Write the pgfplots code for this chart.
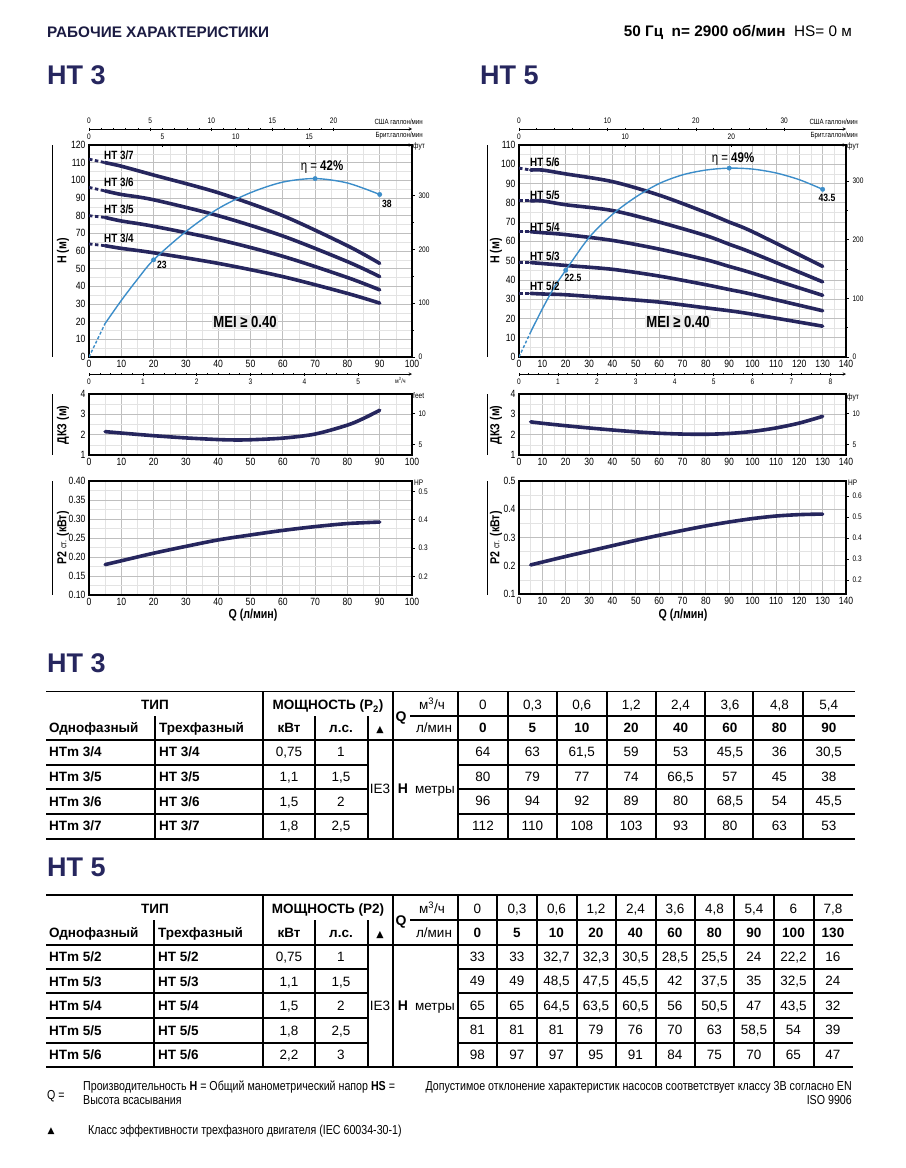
\documentclass[border=0pt]{standalone}
\usepackage{pgfplots}
\usepackage{pgfplotstable}
\pgfplotsset{compat=1.18}
\usepackage{fontspec}
\setmainfont{Liberation Sans}
\newfontfamily\narrow{Liberation Sans}[FakeStretch=0.82]
\newfontfamily\dejavu{DejaVu Sans}
\newcommand{\fs}[1]{\fontsize{#1bp}{#1bp}\selectfont}
\definecolor{navy}{HTML}{26265E}
\definecolor{etab}{HTML}{3C8DC9}

\pgfplotstableread{
Q a b c d
0 64 80 96 112
5 63 79 94 110
10 61.5 77 92 108
20 59 74 89 103
40 53 66.5 80 93
60 45.5 57 68.5 80
80 36 45 54 63
90 30.5 38 45.5 53
}\htthree

\pgfplotstableread{
Q a b c d e
0 33 49 65 81 98
5 33 49 65 81 97
10 32.7 48.5 64.5 81 97
20 32.3 47.5 63.5 79 95
40 30.5 45.5 60.5 76 91
60 28.5 42 56 70 84
80 25.5 37.5 50.5 63 75
90 24 35 47 58.5 70
100 22.2 32.5 43.5 54 65
130 16 24 32 39 47
}\htfive

\pgfplotsset{
  chart/.style={scale only axis, grid=both, minor x tick num=1, minor y tick num=1,
    major grid style={draw=gray!50, line width=0.8bp},
    minor grid style={draw=gray!22, line width=0.5bp},
    major tick length=0pt, minor tick length=0pt,
    axis line style={black, line width=1.2bp},
    tick label style={font=\narrow\fs{10.5}},
    /pgf/number format/assume math mode=true},
  hc/.style={navy, line width=3.6bp, smooth, line cap=round, restrict x to domain=5:200},
  hcd/.style={navy, line width=2.8bp, dash pattern=on 3.5bp off 2.5bp, restrict x to domain=0:5},
  cc/.style={navy, line width=3.6bp, smooth, line cap=round},
  eta/.style={etab, line width=1.4bp, smooth},
  etad/.style={etab, line width=1.4bp, dash pattern=on 3bp off 2bp},
  dots/.style={etab, only marks, mark=*, mark size=2.2bp},
  secy/.style={scale only axis, xmin=0, xmax=1, axis x line=none, axis y line=right,
    axis line style={-, black, line width=0.5bp}, tick align=outside,
    major tick length=3bp, minor tick length=1.5bp, ytick style={black, line width=0.5bp},
    yticklabel style={font=\narrow\fs{8}}, /pgf/number format/assume math mode=true},
  secx/.style={scale only axis, height=1bp, ymin=0, ymax=1, axis y line=none,
    axis line style={-, black, line width=0.5bp}, tick align=outside,
    major tick length=3bp, minor tick length=2bp, xtick style={black, line width=0.5bp},
    xticklabel style={font=\narrow\fs{8}}, /pgf/number format/assume math mode=true},
  secxb/.style={secx, tick align=inside},
}

\begin{document}
\begin{tikzpicture}
\path[use as bounding box] (0,0) rectangle (906bp,-1168bp);

% ================= HT 3 =================
\begin{axis}[chart, at={(89bp,-357bp)}, anchor=south west, width=323bp, height=212bp,
  xmin=0, xmax=100, ymin=0, ymax=120, xtick={0,10,...,100}, ytick={0,10,...,120}]
\addplot[hcd] table[x=Q,y=a]{\htthree};
\addplot[hcd] table[x=Q,y=b]{\htthree};
\addplot[hcd] table[x=Q,y=c]{\htthree};
\addplot[hcd] table[x=Q,y=d]{\htthree};
\addplot[hc] table[x=Q,y=a]{\htthree};
\addplot[hc] table[x=Q,y=b]{\htthree};
\addplot[hc] table[x=Q,y=c]{\htthree};
\addplot[hc] table[x=Q,y=d]{\htthree};
\addplot[etad] coordinates {(0,0)(5,19)};
\addplot[eta] coordinates {(5,19)(10,32)(15,44)(20,55)(30,71)(40,84)(50,93)(60,99)(70,101)(80,98.5)(90,92)};
\addplot[dots] coordinates {(20,55)(70,101)(90,92)};
\end{axis}
\begin{axis}[secy, at={(89bp,-357bp)}, anchor=south west, width=323bp, height=212bp,
  ymin=0, ymax=393.7, ytick={0,100,200,300}, minor y tick num=1]
\end{axis}
\begin{axis}[secx, axis x line=top, at={(89bp,-129bp)}, anchor=north west, width=323bp,
  xmin=0, xmax=26.42, xtick={0,5,...,20}, minor x tick num=4]
\end{axis}
\begin{axis}[secx, axis x line=top, at={(89bp,-145bp)}, anchor=north west, width=323bp,
  xmin=0, xmax=22.0, xtick={0,5,10,15}, minor x tick num=4]
\end{axis}
\begin{axis}[secxb, axis x line=bottom, at={(89bp,-374bp)}, anchor=south west, width=323bp,
  xmin=0, xmax=6, xtick={0,1,...,5}, minor x tick num=4]
\end{axis}

\begin{axis}[chart, at={(89bp,-455bp)}, anchor=south west, width=323bp, height=61bp,
  xmin=0, xmax=100, ymin=1, ymax=4, xtick={0,10,...,100}, ytick={1,2,3,4}]
\addplot[cc] coordinates {(5,2.15)(10,2.08)(20,1.95)(30,1.84)(40,1.76)(45,1.74)(50,1.75)(60,1.83)(70,2.03)(80,2.47)(85,2.8)(90,3.2)};
\end{axis}
\begin{axis}[secy, at={(89bp,-455bp)}, anchor=south west, width=323bp, height=61bp,
  ymin=3.2808, ymax=13.1234, ytick={5,10}]
\end{axis}

\begin{axis}[chart, at={(89bp,-595bp)}, anchor=south west, width=323bp, height=114bp,
  xmin=0, xmax=100, ymin=0.1, ymax=0.4, xtick={0,10,...,100},
  ytick={0.1,0.15,0.2,0.25,0.3,0.35,0.4},
  yticklabel style={/pgf/number format/.cd, fixed, zerofill, precision=2}]
\addplot[cc] coordinates {(5,0.18)(10,0.19)(20,0.21)(30,0.228)(40,0.245)(50,0.258)(60,0.27)(70,0.28)(80,0.288)(90,0.292)};
\end{axis}
\begin{axis}[secy, at={(89bp,-595bp)}, anchor=south west, width=323bp, height=114bp,
  ymin=0.1341, ymax=0.5364, ytick={0.2,0.3,0.4,0.5}]
\end{axis}

% ================= HT 5 =================
\begin{axis}[chart, at={(519bp,-357bp)}, anchor=south west, width=327bp, height=212bp,
  xmin=0, xmax=140, ymin=0, ymax=110, xtick={0,10,...,140}, ytick={0,10,...,110}]
\addplot[hcd] table[x=Q,y=a]{\htfive};
\addplot[hcd] table[x=Q,y=b]{\htfive};
\addplot[hcd] table[x=Q,y=c]{\htfive};
\addplot[hcd] table[x=Q,y=d]{\htfive};
\addplot[hcd] table[x=Q,y=e]{\htfive};
\addplot[hc] table[x=Q,y=a]{\htfive};
\addplot[hc] table[x=Q,y=b]{\htfive};
\addplot[hc] table[x=Q,y=c]{\htfive};
\addplot[hc] table[x=Q,y=d]{\htfive};
\addplot[hc] table[x=Q,y=e]{\htfive};
\addplot[etad] coordinates {(0,0)(5,13)};
\addplot[eta] coordinates {(5,13)(10,25)(15,36)(20,45)(30,62)(40,74)(50,83)(60,90)(70,94.5)(80,97)(90,98)(100,97.5)(110,95.5)(120,92)(130,87)};
\addplot[dots] coordinates {(20,45)(90,98)(130,87)};
\end{axis}
\begin{axis}[secy, at={(519bp,-357bp)}, anchor=south west, width=327bp, height=212bp,
  ymin=0, ymax=360.89, ytick={0,100,200,300}, minor y tick num=1]
\end{axis}
\begin{axis}[secx, axis x line=top, at={(519bp,-129bp)}, anchor=north west, width=327bp,
  xmin=0, xmax=36.99, xtick={0,10,20,30}, minor x tick num=4]
\end{axis}
\begin{axis}[secx, axis x line=top, at={(519bp,-145bp)}, anchor=north west, width=327bp,
  xmin=0, xmax=30.8, xtick={0,10,20}, minor x tick num=4]
\end{axis}
\begin{axis}[secxb, axis x line=bottom, at={(519bp,-374bp)}, anchor=south west, width=327bp,
  xmin=0, xmax=8.4, xtick={0,1,...,8}, minor x tick num=3]
\end{axis}

\begin{axis}[chart, at={(519bp,-455bp)}, anchor=south west, width=327bp, height=61bp,
  xmin=0, xmax=140, ymin=1, ymax=4, xtick={0,10,...,140}, ytick={1,2,3,4}]
\addplot[cc] coordinates {(5,2.63)(10,2.56)(20,2.44)(30,2.33)(40,2.23)(50,2.14)(60,2.07)(70,2.03)(80,2.02)(90,2.06)(100,2.16)(110,2.33)(120,2.57)(130,2.9)};
\end{axis}
\begin{axis}[secy, at={(519bp,-455bp)}, anchor=south west, width=327bp, height=61bp,
  ymin=3.2808, ymax=13.1234, ytick={5,10}]
\end{axis}

\begin{axis}[chart, at={(519bp,-594bp)}, anchor=south west, width=327bp, height=113bp,
  xmin=0, xmax=140, ymin=0.1, ymax=0.5, xtick={0,10,...,140},
  ytick={0.1,0.2,0.3,0.4,0.5},
  yticklabel style={/pgf/number format/.cd, fixed, zerofill, precision=1}]
\addplot[cc] coordinates {(5,0.203)(10,0.213)(20,0.233)(30,0.252)(40,0.271)(50,0.29)(60,0.308)(70,0.325)(80,0.341)(90,0.355)(100,0.367)(110,0.376)(120,0.381)(130,0.383)};
\end{axis}
\begin{axis}[secy, at={(519bp,-594bp)}, anchor=south west, width=327bp, height=113bp,
  ymin=0.1341, ymax=0.6705, ytick={0.2,0.3,0.4,0.5,0.6}]
\end{axis}

% ================= texts, tables =================
\begin{scope}[x=1bp,y=-1bp]
% header
\node[anchor=west, inner sep=0, font=\bfseries\fs{15.3}, text=navy!70!black] at (47,32) {РАБОЧИЕ ХАРАКТЕРИСТИКИ};
\node[anchor=east, inner sep=0, font=\fs{15.3}] at (852,32) {\textbf{50 Гц\ \ n= 2900 об/мин}\ \ HS= 0 м};
\node[anchor=west, inner sep=0, font=\bfseries\fs{27}, text=navy] at (47,75) {HT 3};
\node[anchor=west, inner sep=0, font=\bfseries\fs{27}, text=navy] at (480,75) {HT 5};

% decorative lines
\foreach \xx in {52,487} {
  \draw[line width=0.8bp] (\xx,145)--(\xx,357);
  \draw[line width=0.8bp] (\xx,394)--(\xx,455);
  \draw[line width=0.8bp] (\xx,481)--(\xx,595);
}
% axis labels
\foreach \xx in {63,496} {
  \node[rotate=90, font=\narrow\bfseries\fs{13}] at (\xx,251) {H (м)};
  \node[rotate=90, font=\narrow\bfseries\fs{13}] at (\xx,425) {ДКЗ (м)};
  \node[rotate=90, font=\narrow\bfseries\fs{13}] at (\xx,538) {P2 {\mdseries\fs{9}ст.} (кВт)};
}
\node[font=\narrow\bfseries\fs{13}] at (253,615) {Q (л/мин)};
\node[font=\narrow\bfseries\fs{13}] at (683,615) {Q (л/мин)};

% scale labels
\node[anchor=east, inner sep=0, font=\narrow\fs{7.5}] at (423,122) {США галлон/мин};
\node[anchor=east, inner sep=0, font=\narrow\fs{7.5}] at (423,136) {Брит.галлон/мин};
\node[anchor=east, inner sep=0, font=\narrow\fs{7.5}] at (858,122) {США галлон/мин};
\node[anchor=east, inner sep=0, font=\narrow\fs{7.5}] at (858,136) {Брит.галлон/мин};
\node[anchor=west, inner sep=0, font=\narrow\fs{8}] at (413,146) {фут};
\node[anchor=west, inner sep=0, font=\narrow\fs{8}] at (847,146) {фут};
\node[anchor=west, inner sep=0, font=\narrow\fs{6.5}] at (395,380) {м\textsuperscript{3}/ч};
\node[anchor=west, inner sep=0, font=\narrow\fs{8}] at (413,396) {feet};
\node[anchor=west, inner sep=0, font=\narrow\fs{8}] at (847,397) {фут};
\node[anchor=west, inner sep=0, font=\narrow\fs{8}] at (414,483) {HP};
\node[anchor=west, inner sep=0, font=\narrow\fs{8}] at (848,483) {HP};

% curve labels
\node[anchor=west, inner sep=0, font=\narrow\bfseries\fs{12}] at (104,155) {HT 3/7};
\node[anchor=west, inner sep=0, font=\narrow\bfseries\fs{12}] at (104,182) {HT 3/6};
\node[anchor=west, inner sep=0, font=\narrow\bfseries\fs{12}] at (104,209) {HT 3/5};
\node[anchor=west, inner sep=0, font=\narrow\bfseries\fs{12}] at (104,238) {HT 3/4};
\node[anchor=west, inner sep=0, font=\narrow\bfseries\fs{12}] at (530,162) {HT 5/6};
\node[anchor=west, inner sep=0, font=\narrow\bfseries\fs{12}] at (530,195) {HT 5/5};
\node[anchor=west, inner sep=0, font=\narrow\bfseries\fs{12}] at (530,227) {HT 5/4};
\node[anchor=west, inner sep=0, font=\narrow\bfseries\fs{12}] at (530,256) {HT 5/3};
\node[anchor=west, inner sep=0, font=\narrow\bfseries\fs{12}] at (530,286) {HT 5/2};

% eta labels
\node[inner sep=0, font=\narrow\fs{14}] at (322,167) {η = \textbf{42\%}};
\node[inner sep=0, font=\narrow\bfseries\fs{10.5}] at (162,265) {23};
\node[inner sep=0, font=\narrow\bfseries\fs{10.5}] at (387,204) {38};
\node[inner sep=0, font=\narrow\fs{14}] at (733,159) {η = \textbf{49\%}};
\node[inner sep=0, font=\narrow\bfseries\fs{10.5}] at (573,278) {22.5};
\node[inner sep=0, font=\narrow\bfseries\fs{10.5}] at (827,198) {43.5};

% MEI
\node[fill=gray!15, inner sep=1.5bp, font=\narrow\bfseries\fs{16}] at (245,322) {MEI ≥ 0.40};
\node[fill=gray!15, inner sep=1.5bp, font=\narrow\bfseries\fs{16}] at (678,322) {MEI ≥ 0.40};

% ---------- table titles ----------
\node[anchor=west, inner sep=0, font=\bfseries\fs{27}, text=navy] at (47,663) {HT 3};
\node[anchor=west, inner sep=0, font=\bfseries\fs{27}, text=navy] at (47,867) {HT 5};

% ---------- HT 3 table ----------
\begin{scope}[line width=1.1bp]
\draw (46,691.5)--(855,691.5);
\draw (410,716)--(855,716);
\draw (46,740)--(855,740);
\foreach \yy in {765,789,814} {\draw (46,\yy)--(368,\yy); \draw (458,\yy)--(855,\yy);}
\draw (46,839)--(855,839);
\foreach \xx in {155,315,368} \draw (\xx,716)--(\xx,839);
\foreach \xx in {263,393,458,508,557,607,656,705,753,803} \draw (\xx,691.5)--(\xx,839);
\end{scope}
\begin{scope}[every node/.style={font=\fs{13.5}, inner sep=0, text height=9.7bp, text depth=0bp}]
\node[font=\bfseries\fs{13.5}] at (155,705) {ТИП};
\node[font=\bfseries\fs{13.5}] at (328,705) {МОЩНОСТЬ (P\textsubscript{2})};
\node[anchor=west, font=\bfseries\fs{13.5}] at (49,728) {Однофазный};
\node[anchor=west, font=\bfseries\fs{13.5}] at (159,728) {Трехфазный};
\node[font=\bfseries\fs{13.5}] at (289,728) {кВт};
\node[font=\bfseries\fs{13.5}] at (341,728) {л.с.};
\node[font=\dejavu\fs{9.5}] at (380,728) {▲};
\node[font=\bfseries\fs{14}] at (401,717) {Q};
\node at (432,705) {м\textsuperscript{3}/ч};
\node at (434,728) {л/мин};
\foreach \m/\t/\kw/\hp [count=\i from 0] in {{HTm 3/4}/{HT 3/4}/{0,75}/1, {HTm 3/5}/{HT 3/5}/{1,1}/{1,5}, {HTm 3/6}/{HT 3/6}/{1,5}/2, {HTm 3/7}/{HT 3/7}/{1,8}/{2,5}} {
  \node[anchor=west, font=\bfseries\fs{13.5}] at (49,752+24.6*\i) {\m};
  \node[anchor=west, font=\bfseries\fs{13.5}] at (159,752+24.6*\i) {\t};
  \node at (289,752+24.6*\i) {\kw};
  \node at (341,752+24.6*\i) {\hp};
}
\node at (380,789) {IE3};
\node[font=\bfseries\fs{14}] at (403,789) {H};
\node at (435,789) {метры};
\foreach \v [count=\i from 0] in {0,{0,3},{0,6},{1,2},{2,4},{3,6},{4,8},{5,4}} \node at (483+49.4*\i,705) {\v};
\foreach \v [count=\i from 0] in {0,5,10,20,40,60,80,90} \node[font=\bfseries\fs{13.5}] at (483+49.4*\i,728) {\v};
\foreach \v [count=\i from 0] in {64,63,{61,5},59,53,{45,5},36,{30,5}} \node at (483+49.4*\i,752) {\v};
\foreach \v [count=\i from 0] in {80,79,77,74,{66,5},57,45,38} \node at (483+49.4*\i,777) {\v};
\foreach \v [count=\i from 0] in {96,94,92,89,80,{68,5},54,{45,5}} \node at (483+49.4*\i,801) {\v};
\foreach \v [count=\i from 0] in {112,110,108,103,93,80,63,53} \node at (483+49.4*\i,826) {\v};
\end{scope}

% ---------- HT 5 table ----------
\begin{scope}[line width=1.1bp]
\draw (46,895)--(853,895);
\draw (410,920)--(853,920);
\draw (46,945)--(853,945);
\foreach \yy in {969,993,1018,1043} {\draw (46,\yy)--(368,\yy); \draw (458,\yy)--(853,\yy);}
\draw (46,1067)--(853,1067);
\foreach \xx in {154,315,368} \draw (\xx,920)--(\xx,1067);
\foreach \xx in {263,393,458,497,537,577,616,656,695,734,774,814} \draw (\xx,895)--(\xx,1067);
\end{scope}
\begin{scope}[every node/.style={font=\fs{13.5}, inner sep=0, text height=9.7bp, text depth=0bp}]
\node[font=\bfseries\fs{13.5}] at (155,909) {ТИП};
\node[font=\bfseries\fs{13.5}] at (328,909) {МОЩНОСТЬ (P2)};
\node[anchor=west, font=\bfseries\fs{13.5}] at (49,933) {Однофазный};
\node[anchor=west, font=\bfseries\fs{13.5}] at (158,933) {Трехфазный};
\node[font=\bfseries\fs{13.5}] at (289,933) {кВт};
\node[font=\bfseries\fs{13.5}] at (341,933) {л.с.};
\node[font=\dejavu\fs{9.5}] at (380,933) {▲};
\node[font=\bfseries\fs{14}] at (401,921) {Q};
\node at (432,909) {м\textsuperscript{3}/ч};
\node at (434,933) {л/мин};
\foreach \m/\t/\kw/\hp [count=\i from 0] in {{HTm 5/2}/{HT 5/2}/{0,75}/1, {HTm 5/3}/{HT 5/3}/{1,1}/{1,5}, {HTm 5/4}/{HT 5/4}/{1,5}/2, {HTm 5/5}/{HT 5/5}/{1,8}/{2,5}, {HTm 5/6}/{HT 5/6}/{2,2}/3} {
  \node[anchor=west, font=\bfseries\fs{13.5}] at (49,957+24.5*\i) {\m};
  \node[anchor=west, font=\bfseries\fs{13.5}] at (158,957+24.5*\i) {\t};
  \node at (289,957+24.5*\i) {\kw};
  \node at (341,957+24.5*\i) {\hp};
}
\node at (380,1006) {IE3};
\node[font=\bfseries\fs{14}] at (403,1006) {H};
\node at (435,1006) {метры};
\foreach \v [count=\i from 0] in {0,{0,3},{0,6},{1,2},{2,4},{3,6},{4,8},{5,4},6,{7,8}} \node at (477.5+39.5*\i,909) {\v};
\foreach \v [count=\i from 0] in {0,5,10,20,40,60,80,90,100,130} \node[font=\bfseries\fs{13.5}] at (477.5+39.5*\i,933) {\v};
\foreach \v [count=\i from 0] in {33,33,{32,7},{32,3},{30,5},{28,5},{25,5},24,{22,2},16} \node at (477.5+39.5*\i,957) {\v};
\foreach \v [count=\i from 0] in {49,49,{48,5},{47,5},{45,5},42,{37,5},35,{32,5},24} \node at (477.5+39.5*\i,981) {\v};
\foreach \v [count=\i from 0] in {65,65,{64,5},{63,5},{60,5},56,{50,5},47,{43,5},32} \node at (477.5+39.5*\i,1006) {\v};
\foreach \v [count=\i from 0] in {81,81,81,79,76,70,63,{58,5},54,39} \node at (477.5+39.5*\i,1030) {\v};
\foreach \v [count=\i from 0] in {98,97,97,95,91,84,75,70,65,47} \node at (477.5+39.5*\i,1055) {\v};
\end{scope}

% ---------- footer ----------
\node[anchor=west, inner sep=0, font=\narrow\fs{13}] at (47,1096) {Q =};
\node[anchor=north west, inner sep=0, align=left, font=\narrow\fs{13}] at (83,1081) {Производительность \textbf{H} = Общий манометрический напор \textbf{HS} =\\[1bp]Высота всасывания};
\node[anchor=north east, inner sep=0, align=right, font=\narrow\fs{13}] at (852,1081) {Допустимое отклонение характеристик насосов соответствует классу 3В согласно EN\\[1bp]ISO 9906};
\node[inner sep=0, font=\dejavu\fs{9}] at (51,1131) {▲};
\node[anchor=west, inner sep=0, font=\narrow\fs{13}] at (88,1131) {Класс эффективности трехфазного двигателя (IEC 60034-30-1)};
\end{scope}
\end{tikzpicture}
\end{document}
